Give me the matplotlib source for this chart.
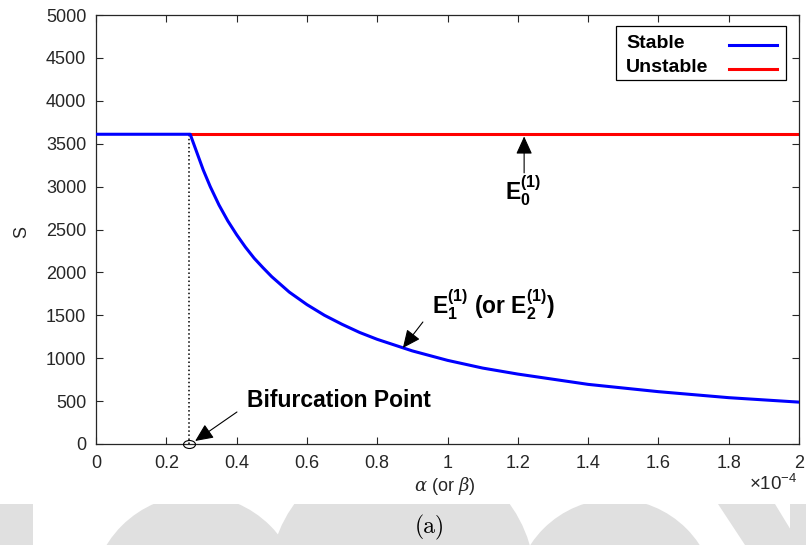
import numpy as np
import matplotlib
matplotlib.use('Agg')
import matplotlib.pyplot as plt
from matplotlib.patches import Circle, Rectangle, Polygon
from matplotlib.path import Path
from matplotlib.transforms import Affine2D

plt.rcParams['font.family'] = ['Liberation Sans', 'DejaVu Sans']
plt.rcParams['mathtext.fontset'] = 'custom'
plt.rcParams['mathtext.rm'] = 'Liberation Sans'
plt.rcParams['mathtext.bf'] = 'Liberation Sans:bold'
plt.rcParams['mathtext.it'] = 'DejaVu Serif:italic'
plt.rcParams['mathtext.sf'] = 'Liberation Sans'

# alpha in units of 1e-4
alpha_bif = 0.265
S_eq = 3610

# stable branch: E0 up to the bifurcation, then E1 (or E2)
stable_alpha = [0.0, 0.268, 0.305, 0.325, 0.35, 0.375, 0.40, 0.425, 0.45, 0.475,
                0.50, 0.55, 0.60, 0.65, 0.70, 0.75, 0.80, 0.90, 1.00, 1.10,
                1.20, 1.40, 1.60, 1.80, 2.00]
stable_S = [3610, 3610, 3195, 3000, 2785, 2600, 2440, 2295, 2165, 2055,
            1950, 1770, 1625, 1500, 1395, 1300, 1220, 1085, 975, 885,
            815, 695, 610, 540, 488]

# unstable branch: E0 after the bifurcation
unstable_alpha = [0.268, 2.00]
unstable_S = [3610, 3610]

legend_labels = ['Stable', 'Unstable']
legend_colors = ['blue', 'red']

xticks = [0, 0.2, 0.4, 0.6, 0.8, 1.0, 1.2, 1.4, 1.6, 1.8, 2.0]
xticklabels = ['0', '0.2', '0.4', '0.6', '0.8', '1', '1.2', '1.4', '1.6', '1.8', '2']
yticks = list(range(0, 5001, 500))

dark = '#262626'

fig = plt.figure(figsize=(8.06, 5.45), dpi=100)

# faint watermark strip along the bottom
ax_bg = fig.add_axes([0, 0, 1, 1], zorder=-1)
ax_bg.set_xlim(0, 806)
ax_bg.set_ylim(545, 0)
ax_bg.axis('off')
band = Rectangle((0, 504), 806, 41, facecolor='none', edgecolor='none')
ax_bg.add_patch(band)
grey = '#e0e0e0'
shapes = [
    Polygon([(0, 504), (33, 504), (33, 545), (0, 545)]),
    Circle((196, 600), 105),
    Circle((402, 582), 133),
    Circle((615, 600), 101),
    Polygon([(718, 504), (775, 504), (800, 545), (745, 545)]),
    Polygon([(790, 504), (806, 504), (806, 545), (790, 545)]),
]
for p in shapes:
    p.set_facecolor(grey)
    p.set_edgecolor('none')
    ax_bg.add_patch(p)
    p.set_clip_path(band)

ax = fig.add_axes([96 / 806, 1 - 444 / 545, 703 / 806, 429 / 545])

ax.plot(unstable_alpha, unstable_S, color='red', lw=2.2, zorder=2)
ax.plot(stable_alpha, stable_S, color='blue', lw=2.2, zorder=3)
ax.plot([alpha_bif, alpha_bif], [0, S_eq], color='black', lw=1.1, ls=':', zorder=1)

oval = Path.unit_circle().transformed(Affine2D().scale(1.5, 1.0))
ax.plot([alpha_bif], [0], marker=oval, ms=8.6, mfc='none', mec='black',
        mew=0.8, clip_on=False, zorder=4)

ax.set_xlim(0, 2)
ax.set_ylim(0, 5000)
ax.set_xticks(xticks)
ax.set_xticklabels(xticklabels)
ax.set_yticks(yticks)
ax.tick_params(direction='in', top=True, right=True, length=5, width=0.8,
               colors=dark, labelsize=13)
ax.tick_params(axis='x', pad=8)
ax.tick_params(axis='y', pad=7)
for s in ax.spines.values():
    s.set_color(dark)
    s.set_linewidth(0.9)


def px(x, y):
    # pixel position (from top-left of the figure) to axes fraction
    return ((x - 96) / 703, (444 - y) / 429)


# legend box: text on the left, line sample on the right
x0, y0 = px(616, 80)
x1, y1 = px(786, 26)
ax.add_patch(Rectangle((x0, y0), x1 - x0, y1 - y0, transform=ax.transAxes,
                       facecolor='white', edgecolor='black', lw=0.9, zorder=5))
for i, (lab, col) in enumerate(zip(legend_labels, legend_colors)):
    yl = 43 + 24 * i
    tx, ty = px(626, yl)
    ax.text(tx, ty, lab, transform=ax.transAxes, ha='left', va='center',
            fontsize=14, fontweight='bold', zorder=6)
    lx0, ly = px(729, yl + 2)
    lx1, _ = px(777, yl + 2)
    ax.plot([lx0, lx1], [ly, ly], transform=ax.transAxes, color=col, lw=2.2,
            zorder=6, clip_on=False)

arrow = dict(arrowstyle='-|>,head_length=1.1,head_width=0.5', color='black',
             lw=0.8, shrinkA=0, shrinkB=0, mutation_scale=10)

ax.annotate('', xy=(1.218, 3585), xytext=(1.218, 3160), arrowprops=arrow)
ax.text(1.215, 2950, r'$\mathbf{E_0^{(1)}}$', ha='center', va='center', fontsize=16.5)

ax.annotate('', xy=(0.873, 1119), xytext=(0.93, 1422), arrowprops=arrow)
ax.text(0.955, 1630, r'$\mathbf{E_1^{(1)}}$ (or $\mathbf{E_2^{(1)}}$)', ha='left',
        va='center', fontsize=16.5, fontweight='bold')

ax.annotate('', xy=(0.282, 35), xytext=(0.401, 373), arrowprops=arrow)
ax.text(0.43, 510, 'Bifurcation Point', ha='left', va='center',
        fontsize=16.5, fontweight='bold')

fig.text(22 / 806, 1 - 232 / 545, 'S', rotation=90, ha='center', va='center',
         fontsize=13, color=dark)
fig.text(445 / 806, 1 - 486 / 545, r'$\alpha$ (or $\beta$)', ha='center',
         va='center', fontsize=13, color=dark)
fig.text(798 / 806, 1 - 484 / 545, r'$\times$10$^{\mathsf{-4}}$', ha='right',
         va='center', fontsize=13.5, color=dark)
fig.text(430 / 806, 1 - 527 / 545, '(a)', ha='center', va='center',
         fontsize=17, family='cmr10')

fig.savefig('out.png', dpi=100)
